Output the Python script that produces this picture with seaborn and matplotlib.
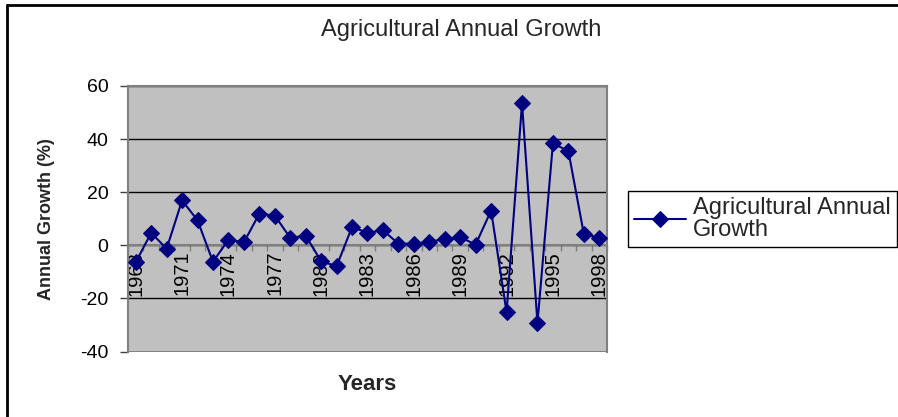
import matplotlib
matplotlib.use("Agg")
import matplotlib.pyplot as plt
from matplotlib.lines import Line2D
import seaborn as sns
import pandas as pd
import numpy as np

# ---- data ----
years = list(range(1968, 1999))
growth = [-6.4, 4.7, -1.3, 16.9, 9.4, -6.2, 2.1, 1.1, 11.9, 11.2,
          2.8, 3.6, -6.0, -7.9, 6.9, 4.7, 5.7, 0.6, 0.6, 1.3,
          2.4, 3.0, 0.3, 13.1, -25.2, 53.5, -29.3, 38.4, 35.5, 4.3, 2.8]
xtick_years = list(range(1968, 1999, 3))
ytick_values = [-40, -20, 0, 20, 40, 60]
series_name = "Agricultural Annual\nGrowth"
title = "Agricultural Annual Growth"
xlabel = "Years"
ylabel = "Annual Growth (%)"

df = pd.DataFrame({"Year": years, "Growth": growth})

sns.set_style("ticks")
plt.rcParams["font.family"] = ["Liberation Sans", "DejaVu Sans"]

W, H = 898, 417
fig = plt.figure(figsize=(W / 100, H / 100), dpi=100)
ax = fig.add_axes([128 / W, 1 - 351.5 / H, (607 - 128) / W, (351.5 - 86) / H])

ax.set_facecolor("#C0C0C0")
ax.set_axisbelow(True)
ax.yaxis.grid(True, color="black", linewidth=1.0)
ax.xaxis.grid(False)

sns.lineplot(data=df, x="Year", y="Growth", ax=ax, color="#000080",
             marker="D", markersize=8, markeredgecolor="#000080",
             linewidth=1.5, label=series_name, zorder=3)

ax.set_xlim(years[0] - 0.5, years[-1] + 0.5)
ax.set_ylim(ytick_values[0], ytick_values[-1])

ax.tick_params(axis="x", which="major", length=0, pad=4, labelsize=14.5,
               colors="black", labelrotation=90)
ax.tick_params(axis="x", which="minor", length=4, width=1, color="#808080", direction="out")
ax.tick_params(axis="y", which="major", length=6, width=1, color="#404040",
               direction="out", pad=8, labelsize=14, labelcolor="black")

ax.set_yticks(ytick_values)
ax.set_yticklabels([str(v) for v in ytick_values])
ax.set_xticks(xtick_years)
ax.set_xticklabels([str(y) for y in xtick_years], rotation=90, va="top", ha="center")
ax.set_xticks(np.arange(years[0] - 0.5, years[-1] + 1.0, 1.0), minor=True)

gray = "#808080"
ax.spines["bottom"].set_position(("data", 0))
for s in ["bottom", "top", "right", "left"]:
    ax.spines[s].set_color(gray)
    ax.spines[s].set_linewidth(1.5)
ax.axhline(ytick_values[0], color=gray, linewidth=2, zorder=2.5)

ax.set_xlabel(xlabel, fontsize=16, fontweight="bold")
ax.set_ylabel(ylabel, fontsize=13, fontweight="bold")
ax.xaxis.set_label_coords(0.5, -0.085)
ax.yaxis.set_label_coords(-0.152, 0.5)

fig.text(461 / W, 1 - 30 / H, title, fontsize=17, ha="center", va="center")

leg = ax.legend(loc="upper left", bbox_to_anchor=(628 / W, 1 - 191 / H),
                bbox_transform=fig.transFigure, fontsize=17, frameon=True,
                fancybox=False, shadow=False, borderpad=0.25, handlelength=2.2,
                handletextpad=0.3, borderaxespad=0, labelspacing=0.2)
for t in leg.get_texts():
    t.set_linespacing(1.02)
leg.get_frame().set_edgecolor("black")
leg.get_frame().set_linewidth(1.0)
leg.get_frame().set_facecolor("white")
leg.get_frame().set_alpha(1)

# figure border (top and left)
fig.add_artist(Line2D([6.5 / W, 6.5 / W], [0, 1 - 4.5 / H], transform=fig.transFigure,
                      color="black", linewidth=2))
fig.add_artist(Line2D([6.5 / W, 1], [1 - 4.5 / H, 1 - 4.5 / H], transform=fig.transFigure,
                      color="black", linewidth=2))

fig.savefig("out.png", dpi=100, facecolor="white")
